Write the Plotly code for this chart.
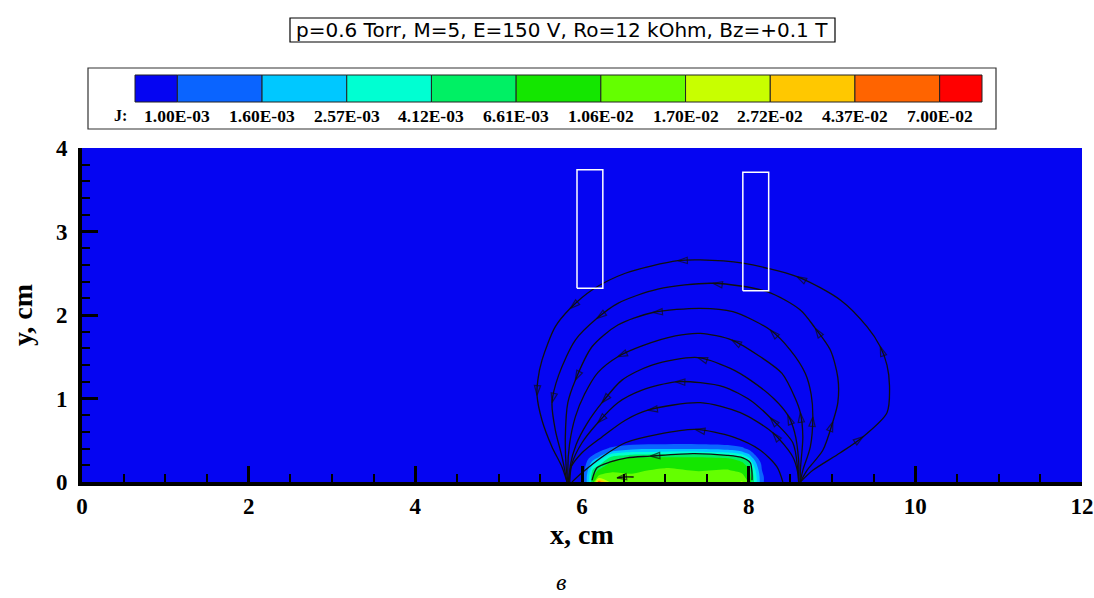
import numpy as np
import plotly.graph_objects as go

# ---------------- data ----------------
# Current density J sampled on a non-uniform (x, y) grid, cm.
grid_x = [0.0, 5.95, 6.03, 6.08, 6.13, 6.2, 6.35, 6.6, 7.0, 7.4, 7.75, 7.92, 8.0, 8.05, 8.1, 8.16, 8.3, 12.0]
grid_y = [0.0, 0.06, 0.14, 0.22, 0.28, 0.32, 0.36, 0.40, 0.46, 0.60, 4.0]
# one row per grid_y value, J in units of 1e-3
j_rows_milli = [
    [0.5, 0.6, 1.1, 2.2, 7.0, 60., 14., 12., 13., 13., 12., 18., 10., 5.0, 2.5, 1.1, 0.6, 0.5],
    [0.5, 0.6, 1.1, 2.2, 6.5, 12., 12., 11., 12., 12., 11., 12., 9.0, 4.8, 2.4, 1.1, 0.6, 0.5],
    [0.5, 0.55, 1.0, 1.8, 4.5, 7.0, 10., 10.2, 11., 10.4, 10.8, 9.5, 7.5, 4.0, 2.0, 1.0, 0.55, 0.5],
    [0.5, 0.5, 0.85, 1.3, 2.2, 3.5, 8.0, 9.6, 9.8, 9.6, 9.0, 7.5, 5.0, 2.6, 1.5, 0.9, 0.5, 0.5],
    [0.5, 0.5, 0.7, 1.0, 1.3, 1.9, 5.5, 7.5, 8.0, 8.0, 7.0, 5.0, 3.0, 1.7, 1.1, 0.75, 0.5, 0.5],
    [0.5, 0.5, 0.6, 0.85, 1.0, 1.3, 3.3, 4.6, 5.0, 5.0, 4.3, 3.0, 1.9, 1.2, 0.9, 0.65, 0.5, 0.5],
    [0.5, 0.5, 0.55, 0.7, 0.8, 1.0, 1.7, 2.5, 2.7, 2.7, 2.3, 1.7, 1.2, 0.95, 0.75, 0.6, 0.5, 0.5],
    [0.5, 0.5, 0.5, 0.6, 0.65, 0.8, 1.1, 1.4, 1.5, 1.5, 1.3, 1.1, 0.9, 0.75, 0.65, 0.55, 0.5, 0.5],
    [0.5, 0.5, 0.5, 0.5, 0.55, 0.6, 0.75, 0.9, 0.95, 0.95, 0.9, 0.8, 0.7, 0.6, 0.55, 0.5, 0.5, 0.5],
    [0.5] * 18,
    [0.5] * 18,
]

# contour levels of J and the fill colour of each band (below first .. above last)
j_levels = [1.00e-3, 1.60e-3, 2.57e-3, 4.12e-3, 6.61e-3, 1.06e-2, 1.70e-2, 2.72e-2, 4.37e-2, 7.00e-2]
band_colors = ["#0505f2", "#0a64ff", "#00c8ff", "#00ffd2", "#00f064", "#14e600",
               "#64ff00", "#c8ff00", "#ffc800", "#ff6400", "#ff0000"]

# current streamlines (x, y in cm) and indices of points carrying an arrow
line_a_x = [8.62, 8.77, 9.10, 9.37, 9.66, 9.69, 9.66, 9.58, 9.42, 9.10, 8.58, 7.93, 7.42, 7.15, 6.52, 6.12, 5.86, 5.68, 5.52, 5.47, 5.46, 5.52, 5.64, 5.76, 5.82]
line_a_y = [0.00, 0.14, 0.35, 0.54, 0.83, 1.15, 1.40, 1.62, 1.86, 2.18, 2.46, 2.62, 2.66, 2.65, 2.50, 2.30, 2.08, 1.86, 1.46, 1.22, 1.04, 0.74, 0.42, 0.18, 0.00]
line_a_arrows = [3, 7, 10, 13, 16, 20]

line_b_x = [8.62, 8.70, 8.89, 9.01, 9.07, 9.07, 8.98, 8.80, 8.62, 8.22, 7.57, 6.91, 6.43, 6.18, 5.92, 5.72, 5.64, 5.68, 5.76, 5.82]
line_b_y = [0.00, 0.14, 0.38, 0.72, 0.95, 1.25, 1.58, 1.84, 2.06, 2.28, 2.38, 2.31, 2.14, 1.96, 1.70, 1.28, 0.95, 0.62, 0.30, 0.00]
line_b_arrows = [3, 7, 10, 13, 16]

line_c_x = [8.62, 8.65, 8.74, 8.77, 8.75, 8.68, 8.50, 8.26, 7.81, 7.42, 6.85, 6.43, 6.12, 5.92, 5.83, 5.80, 5.81, 5.83]
line_c_y = [0.00, 0.14, 0.42, 0.78, 1.05, 1.30, 1.58, 1.82, 2.04, 2.08, 2.03, 1.88, 1.62, 1.22, 0.95, 0.54, 0.18, 0.00]
line_c_arrows = [3, 7, 10, 13]

line_d_x = [8.62, 8.62, 8.65, 8.62, 8.56, 8.40, 8.14, 7.80, 7.42, 7.12, 6.72, 6.43, 6.19, 6.03, 5.92, 5.85, 5.83, 5.84]
line_d_y = [0.00, 0.14, 0.54, 0.83, 1.00, 1.30, 1.50, 1.70, 1.78, 1.75, 1.63, 1.50, 1.31, 1.05, 0.78, 0.45, 0.15, 0.00]
line_d_arrows = [3, 7, 11]

line_e_x = [8.60, 8.60, 8.55, 8.47, 8.30, 8.02, 7.78, 7.39, 6.84, 6.48, 6.24, 6.06, 5.93, 5.86, 5.85]
line_e_y = [0.00, 0.25, 0.60, 0.80, 1.00, 1.22, 1.36, 1.49, 1.40, 1.22, 0.95, 0.70, 0.45, 0.20, 0.00]
line_e_arrows = [3, 7, 10]

line_f_x = [8.60, 8.59, 8.53, 8.26, 8.02, 7.70, 7.42, 7.12, 6.72, 6.43, 6.19, 6.00, 5.88, 5.85]
line_f_y = [0.00, 0.14, 0.47, 0.77, 0.98, 1.14, 1.19, 1.20, 1.10, 0.95, 0.71, 0.47, 0.22, 0.00]
line_f_arrows = [3, 7, 10]

line_g_x = [8.60, 8.59, 8.53, 8.29, 7.90, 7.42, 6.79, 6.52, 6.24, 6.00, 5.86, 5.85]
line_g_y = [0.00, 0.11, 0.30, 0.59, 0.83, 0.95, 0.86, 0.74, 0.54, 0.35, 0.16, 0.00]
line_g_arrows = [3, 6]

line_h_x = [8.41, 8.34, 8.14, 7.81, 7.36, 6.91, 6.52, 6.24, 6.00, 5.88]
line_h_y = [0.00, 0.18, 0.38, 0.54, 0.63, 0.57, 0.47, 0.30, 0.11, 0.00]
line_h_arrows = [4]

line_i_x = [8.04, 8.04, 8.02, 7.93, 7.74, 7.33, 6.82, 6.54, 6.34, 6.18, 6.12]
line_i_y = [0.02, 0.11, 0.23, 0.29, 0.32, 0.34, 0.31, 0.29, 0.24, 0.17, 0.02]
line_i_arrows = [6]

line_j_x = [6.62, 6.50, 6.42]
line_j_y = [0.06, 0.06, 0.05]
line_j_arrows = [2]

# probe outlines (cm)
probe_left = [5.94, 7.93]
probe_right = [6.25, 8.24]
probe_bottom = [2.32, 2.29]
probe_top = [3.74, 3.71]

title_text = "p=0.6 Torr, M=5, E=150 V, Ro=12 kOhm, Bz=+0.1 T"
panel_text = "в"

# ---------------- figure ----------------
W, H = 1094, 598
PL, PR, PT, PB = 82, 1082, 148, 482   # plot area in pixels


def px(xpix):
    return (xpix - PL) / (PR - PL)


def py(ypix):
    return (PB - ypix) / (PB - PT)


serif = "Liberation Serif"
sans = "DejaVu Sans"

log_levels = np.log10(j_levels)
n_lv = len(j_levels)
z = np.log10(np.array(j_rows_milli) * 1e-3)

fig = go.Figure()
fig.add_trace(go.Contour(
    x=grid_x, y=grid_y, z=z,
    autocontour=False,
    contours=dict(start=log_levels[0], end=log_levels[-1],
                  size=(log_levels[-1] - log_levels[0]) / (n_lv - 1),
                  coloring="fill", showlines=False),
    colorscale=[[i / (len(band_colors) - 1), c] for i, c in enumerate(band_colors)],
    line=dict(width=0, smoothing=1.0),
    showscale=False, hoverinfo="skip",
))

streams = [
    (line_a_x, line_a_y, line_a_arrows), (line_b_x, line_b_y, line_b_arrows),
    (line_c_x, line_c_y, line_c_arrows), (line_d_x, line_d_y, line_d_arrows),
    (line_e_x, line_e_y, line_e_arrows), (line_f_x, line_f_y, line_f_arrows),
    (line_g_x, line_g_y, line_g_arrows), (line_h_x, line_h_y, line_h_arrows),
    (line_i_x, line_i_y, line_i_arrows), (line_j_x, line_j_y, line_j_arrows),
]
for sx, sy, arrows in streams:
    sizes = [10 if k in arrows else 0 for k in range(len(sx))]
    fig.add_trace(go.Scatter(
        x=sx, y=sy, mode="lines+markers",
        line=dict(color="#101010", width=1.3, shape="spline", smoothing=0.8),
        marker=dict(symbol="arrow-open", size=sizes, angleref="previous",
                    color="#101010", line=dict(color="#101010", width=1.2)),
        hoverinfo="skip", showlegend=False,
    ))

for x0, x1, y0, y1 in zip(probe_left, probe_right, probe_bottom, probe_top):
    fig.add_trace(go.Scatter(
        x=[x0, x1, x1, x0, x0], y=[y0, y0, y1, y1, y0], mode="lines",
        line=dict(color="white", width=1.5), hoverinfo="skip", showlegend=False,
    ))

shapes = []
annotations = []

# title box
shapes.append(dict(type="rect", xref="paper", yref="paper",
                   x0=px(290), x1=px(835), y0=py(42), y1=py(18),
                   line=dict(color="black", width=1.2), fillcolor="white", layer="above"))
annotations.append(dict(text=title_text, xref="paper", yref="paper", x=px(562), y=py(30),
                        xanchor="center", yanchor="middle", showarrow=False,
                        font=dict(family=sans, size=20, color="black")))

# level legend
shapes.append(dict(type="rect", xref="paper", yref="paper",
                   x0=px(88), x1=px(996), y0=py(129), y1=py(68),
                   line=dict(color="#333333", width=1.2), fillcolor="white", layer="above"))
bar_l, bar_r, bar_t, bar_b = 135, 982, 75, 102
unit = (bar_r - bar_l) / (len(band_colors) - 1)
edges = [bar_l] + [bar_l + unit * (k + 0.5) for k in range(n_lv)] + [bar_r]
for k, c in enumerate(band_colors):
    shapes.append(dict(type="rect", xref="paper", yref="paper",
                       x0=px(edges[k]), x1=px(edges[k + 1]), y0=py(bar_b), y1=py(bar_t),
                       line=dict(color="#222222", width=1), fillcolor=c, layer="above"))
for k, v in enumerate(j_levels):
    annotations.append(dict(text=f"{v:.2E}", xref="paper", yref="paper",
                            x=px(edges[k + 1]), y=py(116), xanchor="center", yanchor="middle",
                            showarrow=False,
                            font=dict(family=serif, size=17.5, color="black", weight="bold")))
annotations.append(dict(text="J:", xref="paper", yref="paper", x=px(120), y=py(116),
                        xanchor="center", yanchor="middle", showarrow=False,
                        font=dict(family=serif, size=16, color="black", weight="bold")))

# panel letter
annotations.append(dict(text=panel_text, xref="paper", yref="paper", x=px(561), y=py(582),
                        xanchor="center", yanchor="middle", showarrow=False,
                        font=dict(family=serif, size=24, color="black", style="italic")))

tick_font = dict(family=serif, size=23, color="black", weight="bold")
title_font = dict(family=serif, size=28, color="black", weight="bold")

fig.update_layout(
    width=W, height=H,
    margin=dict(l=PL, r=W - PR, t=PT, b=H - PB, pad=0, autoexpand=False),
    paper_bgcolor="white", plot_bgcolor=band_colors[0],
    showlegend=False,
    shapes=shapes, annotations=annotations,
    xaxis=dict(range=[0, 12], tickmode="linear", tick0=0, dtick=2, automargin=False,
               ticks="inside", ticklen=16, tickwidth=3, tickcolor="black",
               minor=dict(dtick=0.5, ticks="inside", ticklen=8, tickwidth=2,
                          tickcolor="black", showgrid=False),
               showline=True, linecolor="black", linewidth=4,
               showgrid=False, zeroline=False, tickfont=tick_font,
               title=dict(text="x, cm", font=title_font, standoff=6)),
    yaxis=dict(range=[0, 4], tickmode="linear", tick0=0, dtick=1, automargin=False,
               ticks="inside", ticklen=16, tickwidth=3, tickcolor="black",
               minor=dict(dtick=0.2, ticks="inside", ticklen=8, tickwidth=2,
                          tickcolor="black", showgrid=False),
               showline=True, linecolor="black", linewidth=4,
               showgrid=False, zeroline=False, tickfont=tick_font,
               ticklabelstandoff=6,
               title=dict(text="y, cm", font=title_font, standoff=16)),
)

fig.write_html("out.html")
